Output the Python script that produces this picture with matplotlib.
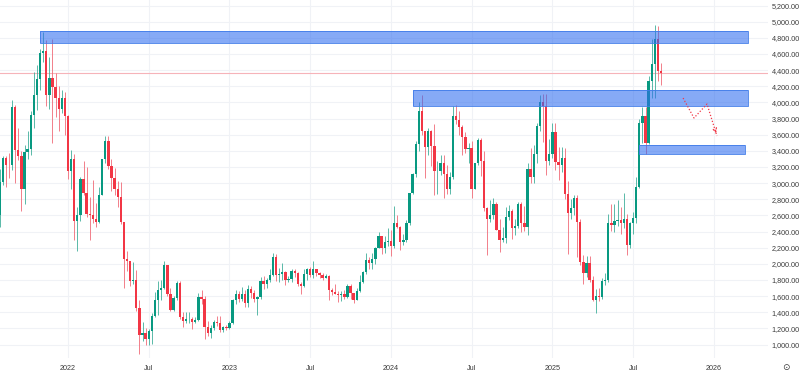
import matplotlib
matplotlib.use("Agg")
import matplotlib.pyplot as plt
from matplotlib.patches import Rectangle
import numpy as np

# ---------------- data (ETH/USD weekly) ----------------
first_week = -22          # week index relative to first week of 2022 (Jan 3, 2022)
first_open = 2610

closes = [
    # 2021 (Aug 2 .. Dec 27)
    3010, 3310, 3230, 3225, 3940, 3410, 3330, 2925, 3390, 3420, 3850, 4090, 4290, 4610, 4640, 4090, 4300, 4190, 4060, 3920, 4060, 3830,
    # 2022
    3145, 3300, 2530, 2600, 3050, 2880, 2620, 2600, 2550, 2520,
    2850, 3300, 3520, 3210, 3060, 2930, 2830, 2520, 2060, 2040,
    1790, 1800, 1450, 1120, 1140, 1070, 1170, 1350, 1550, 1680,
    1700, 1990, 1620, 1425, 1575, 1760, 1335, 1290, 1310, 1320,
    1280, 1300, 1590, 1570, 1220, 1140, 1200, 1280, 1265, 1185,
    1220, 1200,
    # 2023
    1265, 1550, 1630, 1570, 1630, 1515, 1690, 1640, 1565, 1590,
    1790, 1750, 1795, 1860, 2090, 1865, 1870, 1900, 1800, 1810,
    1910, 1890, 1750, 1720, 1870, 1935, 1865, 1930, 1890, 1860,
    1830, 1850, 1670, 1655, 1630, 1615, 1630, 1590, 1730, 1635,
    1555, 1665, 1780, 1900, 2045, 2015, 2060, 2195, 2345, 2195,
    2265, 2280,
    # 2024
    2220, 2510, 2455, 2265, 2290, 2505, 2880, 3110, 3490, 3890,
    3645, 3450, 3650, 3455, 3150, 3150, 3250, 3110, 2930, 3070,
    3830, 3780, 3700, 3570, 3420, 3435, 2930, 3245, 3535, 3270,
    2690, 2555, 2610, 2745, 2425, 2295, 2320, 2580, 2660, 2440,
    2470, 2745, 2510, 2460, 3180, 3070, 3360, 3705, 4000, 3960,
    3280, 3355,
    # 2025
    3635, 3265, 3220, 3310, 2870, 2630, 2690, 2820, 2520, 2020,
    1890, 2010, 1800, 1550, 1600, 1590, 1790, 1800, 2510, 2480,
    2530, 2540, 2510, 2550, 2230, 2500, 2570, 2950, 3750, 3830,
    3500, 4260, 4475, 4780, 4390, 4370,
]

highs = [
    3180, 3330, 3340, 3375, 4030, 3970, 3680, 3400, 3475, 3640, 3890, 4375, 4460, 4660, 4870, 4770, 4560, 4780, 4370, 4200, 4150, 4130,
    3840, 3410, 3360, 2700, 3080, 3280, 3200, 2830, 3040, 2750,
    2950, 3300, 3580, 3580, 3300, 3190, 3030, 3010, 2510, 2160,
    2040, 2020, 1920, 1550, 1280, 1200, 1190, 1390, 1650, 1790,
    1800, 2030, 1960, 1700, 1600, 1790, 1790, 1400, 1400, 1400,
    1340, 1340, 1640, 1680, 1600, 1290, 1240, 1300, 1350, 1350,
    1230, 1240,
    1290, 1560, 1680, 1660, 1710, 1680, 1740, 1720, 1670, 1600,
    1840, 1850, 1830, 1940, 2140, 2120, 1950, 2010, 1910, 1850,
    1930, 1930, 1900, 1780, 1930, 1950, 1960, 2030, 1930, 1900,
    1880, 1870, 1860, 1700, 1750, 1660, 1660, 1680, 1750, 1750,
    1640, 1700, 1860, 1910, 2140, 2080, 2130, 2210, 2400, 2340,
    2340, 2440,
    2420, 2720, 2610, 2470, 2370, 2540, 2880, 3130, 3520, 4000,
    4095, 3650, 3680, 3660, 3730, 3280, 3350, 3350, 3220, 3140,
    3950, 3970, 3890, 3720, 3630, 3500, 3520, 3250, 3560, 3560,
    3400, 2700, 2790, 2820, 2770, 2560, 2460, 2700, 2730, 2680,
    2560, 2760, 2770, 2720, 3250, 3440, 3470, 3740, 4090, 4110,
    4100, 3550,
    3750, 3740, 3450, 3450, 3430, 3030, 2800, 2850, 2850, 2550,
    2110, 2100, 2100, 1850, 1690, 1700, 1830, 1880, 2620, 2740,
    2740, 2790, 2700, 2880, 2620, 2520, 2640, 3070, 3800, 3940,
    3940, 4330, 4790, 4955, 4950, 4490,
]

lows = [
    2450, 2980, 2950, 3060, 3160, 3000, 3290, 2650, 2740, 3300, 3350, 3680, 3900, 4150, 4500, 3960, 3920, 3500, 3820, 3640, 3870, 3600,
    3050, 2930, 2300, 2160, 2530, 2850, 2580, 2300, 2500, 2450,
    2500, 2850, 3250, 3180, 2900, 2850, 2700, 2490, 1700, 1910,
    1730, 1750, 1420, 880, 1040, 1000, 1000, 1010, 1340, 1360,
    1550, 1690, 1600, 1420, 1420, 1550, 1320, 1220, 1270, 1270,
    1190, 1270, 1290, 1500, 1070, 1110, 1080, 1180, 1230, 1160,
    1150, 1180,
    1190, 1260, 1500, 1530, 1540, 1460, 1460, 1580, 1530, 1370,
    1560, 1690, 1700, 1780, 1850, 1790, 1780, 1800, 1740, 1780,
    1780, 1840, 1730, 1630, 1710, 1800, 1840, 1830, 1850, 1830,
    1800, 1820, 1550, 1610, 1620, 1530, 1540, 1570, 1580, 1560,
    1520, 1550, 1650, 1760, 1870, 1930, 1930, 2000, 2190, 2120,
    2140, 2220,
    2100, 2200, 2440, 2170, 2230, 2270, 2480, 2870, 3080, 3400,
    3600, 3060, 3350, 3210, 2850, 2860, 3100, 2810, 2860, 2860,
    3050, 3730, 3600, 3350, 3370, 3250, 2810, 2930, 3220, 3090,
    2650, 2110, 2520, 2560, 2420, 2150, 2270, 2260, 2540, 2310,
    2360, 2440, 2400, 2410, 2360, 3000, 3000, 3250, 3650, 3510,
    3100, 3220,
    3310, 3160, 3040, 3140, 2800, 2120, 2550, 2600, 2080, 1990,
    1750, 1840, 1780, 1540, 1385, 1540, 1560, 1740, 1770, 2410,
    2400, 2470, 2370, 2440, 2110, 2200, 2370, 2500, 2940, 3500,
    3355, 3490, 4060, 4060, 4260, 4210,
]

# time axis
tick_weeks = [0, 26, 52, 78, 104, 130, 156, 182, 208]
tick_labels = ["2022", "Jul", "2023", "Jul", "2024", "Jul", "2025", "Jul", "2026"]
price_ticks = list(range(1000, 5201, 200))

# drawn zones (price levels and week spans)
zone_bottoms = [4740, 3955, 3360]
zone_tops = [4885, 4155, 3470]
zone_starts = [-9.0, 111.1, 183.9]
zone_ends = [219.0, 219.0, 218.0]

# projected path (week, price)
proj_weeks = [198.1, 201.6, 205.8, 209.0]
proj_prices = [4054, 3807, 3980, 3584]

# ---------------- figure ----------------
W, H = 800, 377
fig = plt.figure(figsize=(W / 100, H / 100), dpi=100)
ax = fig.add_axes([0, 19 / H, 768 / W, 358 / H])

GREEN = "#089981"
RED = "#f23645"

closes = np.array(closes, float)
highs = np.array(highs, float)
lows = np.array(lows, float)
opens = np.concatenate([[first_open], closes[:-1]])
weeks = np.arange(len(closes)) + first_week
up = closes >= opens
cols = np.where(up, GREEN, RED)
wick_cols = np.where(up, "#3fae9a", "#f06a77")

# grid
for p in price_ticks:
    ax.axhline(p, color="#f0f2f6", lw=0.8, zorder=0)
for t in tick_weeks:
    ax.axvline(t, color="#f0f2f6", lw=0.8, zorder=0)

# wicks + bodies
ax.vlines(weeks, lows, highs, colors=wick_cols, lw=0.6, zorder=2)
body_h = np.maximum(np.abs(closes - opens), 4)
ax.bar(weeks, body_h, bottom=np.minimum(opens, closes), width=0.75,
       color=cols, edgecolor="none", zorder=3)

# zones (semi-transparent, candles show through)
for b, t, s, e in zip(zone_bottoms, zone_tops, zone_starts, zone_ends):
    ax.add_patch(Rectangle((s, b), e - s, t - b, facecolor="#2f6df0",
                           alpha=0.58, edgecolor="none", zorder=4))
    ax.add_patch(Rectangle((s, b), e - s, t - b, facecolor="none",
                           edgecolor="#3f7be8", lw=0.6, zorder=4))

# last price line
ax.axhline(closes[-1], color="#f6b3b9", lw=0.8, zorder=1)

# projection
ax.plot(proj_weeks, proj_prices, color=RED, lw=0.9, ls=(0, (1, 1.5)), zorder=5)
ax.annotate("", xy=(proj_weeks[-1], proj_prices[-1]),
            xytext=(proj_weeks[-2] + 0.75 * (proj_weeks[-1] - proj_weeks[-2]),
                    proj_prices[-2] + 0.75 * (proj_prices[-1] - proj_prices[-2])),
            arrowprops=dict(arrowstyle="->", color=RED, lw=0.9, ls=":",
                            mutation_scale=7), zorder=5)

# axes
xmin = -68 / 3.105
ax.set_xlim(xmin, xmin + 768 / 3.105)
ymin = 1000 - 13.5 / 0.0807
ax.set_ylim(ymin, 1000 + 344.5 / 0.0807)
for s in ax.spines.values():
    s.set_visible(False)
ax.yaxis.tick_right()
ax.set_yticks(price_ticks)
ax.set_yticklabels([f"{p:,.2f}" for p in price_ticks])
ax.set_xticks(tick_weeks)
ax.set_xticklabels(tick_labels)
ax.tick_params(axis="both", length=0, labelsize=5.2, labelcolor="#3b3b3b")
ax.tick_params(axis="y", pad=2.5)
ax.tick_params(axis="x", pad=5)
for lab in ax.get_xticklabels() + ax.get_yticklabels():
    lab.set_family("Liberation Sans")

fig.text(786 / W, 1 - 367 / H, "⊙", ha="center", va="center", fontsize=6.5,
         color="#3b3b3b")

fig.savefig("out.png", dpi=100, facecolor="white")
